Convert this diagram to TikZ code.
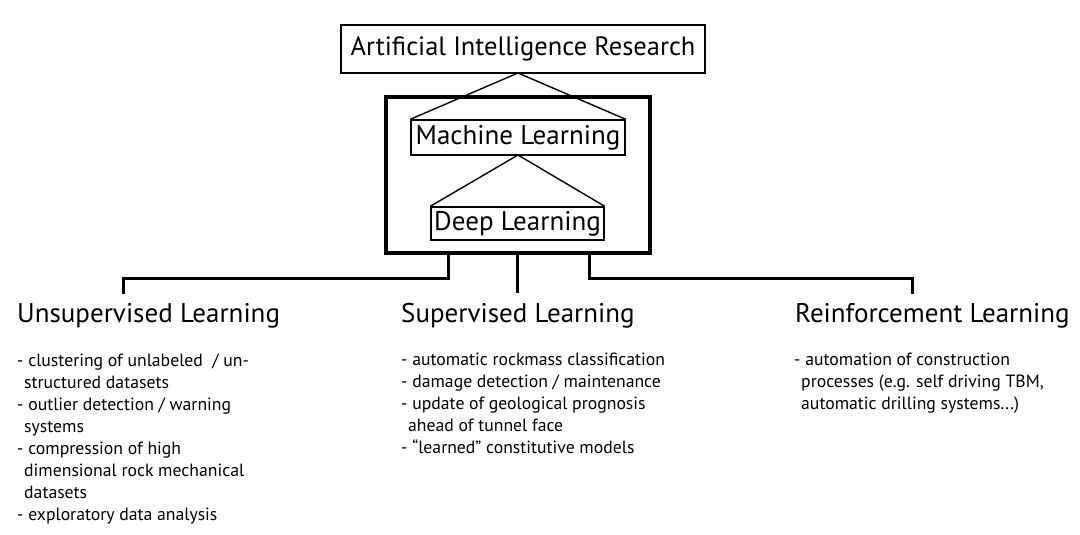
\documentclass[tikz,border=0pt]{standalone}
\usepackage{fontspec}
\setmainfont{PT Sans}
\begin{document}
\begin{tikzpicture}[x=1pt,y=-1pt,
  box/.style={draw,line width=1.4pt,inner sep=0pt,minimum height=#1},
  head/.style={anchor=base west,inner sep=0pt,font=\fontsize{27}{30}\selectfont},
  items/.style={anchor=base west,inner sep=0pt,align=left,font=\fontsize{17.7}{22}\selectfont},
  link/.style={line width=3pt}]
\useasboundingbox[fill=white] (0,0) rectangle (1080,535);

\node[draw,line width=3.5pt,minimum width=264pt,minimum height=156pt] (frame) at (518,175) {};

\node[box=48pt,minimum width=364pt,font=\fontsize{26.5}{30}\selectfont] (ai) at (523,49) {Artificial Intelligence Research};
\node[box=35pt,minimum width=214pt,font=\fontsize{27}{30}\selectfont] (ml) at (518,137.5) {Machine Learning};
\node[box=33pt,minimum width=173pt,font=\fontsize{27}{30}\selectfont] (dl) at (517.5,223.5) {Deep Learning};

\coordinate (aitip) at (518,73);
\coordinate (mltip) at (518,155);
\draw[line width=1.4pt] (ml.north west) -- (aitip) -- (ml.north east);
\draw[line width=1.4pt] (dl.north west) -- (mltip) -- (dl.north east);

\node[head] (unsup) at (17,322) {Unsupervised Learning};
\node[head] (sup) at (401,322) {Supervised Learning};
\node[head] (reinf) at (795,322) {Reinforcement Learning};

\coordinate (jl) at (448,253);
\coordinate (jm) at (517,253);
\coordinate (jr) at (589,253);
\draw[link] (jl) -- (448,278) -| (123,294);
\draw[link] (jm) -- (517,293);
\draw[link] (jr) -- (589,278) -| (912,294);

% base of the last line
\node[items] (unsupitems) at (17,520) {- clustering of unlabeled \ / un-\\
\hspace{7pt}structured datasets\\
- outlier detection / warning\\
\hspace{7pt}systems\\
- compression of high\\
\hspace{7pt}dimensional rock mechanical\\
\hspace{7pt}datasets\\
- exploratory data analysis};

\node[items] (supitems) at (401,453) {- automatic rockmass classification\\
- damage detection / maintenance\\
- update of geological prognosis\\
\hspace{7pt}ahead of tunnel face\\
- ``learned'' constitutive models};

\node[items] (reinfitems) at (794,409) {- automation of construction\\
\hspace{7pt}processes (e.g. self driving TBM,\\
\hspace{7pt}automatic drilling systems...)};
\end{tikzpicture}
\end{document}
